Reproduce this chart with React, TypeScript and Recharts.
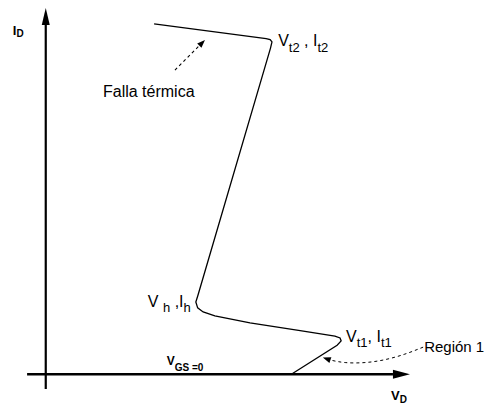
import { LineChart, Line, XAxis, YAxis, ReferenceLine, ReferenceDot } from 'recharts'

const W = 485
const H = 411
const FONT = '"Liberation Sans", Arial, Helvetica, sans-serif'

// snapback curve, drawn from the thermal-failure end down to the trigger point
const CURVE_VD = [2.96, 6.02, 6.13, 6.18, 6.14, 4.16, 4.1, 4.15, 4.3, 4.62, 5.58, 6.95, 7.9, 8.04, 8.07, 7.96, 6.71]
const CURVE_ID = [9.55, 9.15, 9.12, 9.06, 8.89, 2.16, 1.97, 1.81, 1.7, 1.59, 1.4, 1.19, 1.04, 0.99, 0.91, 0.79, 0]

// dashed pointer from "Región 1" back to the curve
const REGION_VD = [10.31, 9.81, 9.27, 8.72, 8.18, 7.77]
const REGION_ID = [0.74, 0.55, 0.4, 0.32, 0.32, 0.39]
const REGION_TIP = { x: 7.57, y: 0.46 }

// dashed pointer for "Falla térmica"
const FALLA_TAIL = { x: 3.53, y: 8.29 }
const FALLA_TIP = { x: 4.35, y: 9.11 }

// key points of the curve
const PT_T2 = { x: 6.13, y: 9.12 }
const PT_H = { x: 4.1, y: 1.97 }
const PT_T1 = { x: 8.04, y: 0.99 }

const X_DOMAIN: [number, number] = [-1.25, 12]
const Y_DOMAIN: [number, number] = [-1, 10.2]

const curve = CURVE_VD.map((x, i) => ({ x, y: CURVE_ID[i] }))
const region = REGION_VD.map((x, i) => ({ x, y: REGION_ID[i] }))

const arrow = (len: number, half: number, width: number, dash?: string, headOnly?: boolean) => (p: any) => {
    const { x1, y1, x2, y2 } = p
    const dx = x2 - x1
    const dy = y2 - y1
    const d = Math.hypot(dx, dy) || 1
    const ux = dx / d
    const uy = dy / d
    const bx = x2 - ux * len
    const by = y2 - uy * len
    const pts = `${x2},${y2} ${bx - uy * half},${by + ux * half} ${bx + uy * half},${by - ux * half}`
    return (
        <g>
            {!headOnly && <line x1={x1} y1={y1} x2={bx} y2={by} stroke="#000" strokeWidth={width} strokeDasharray={dash} />}
            <polygon points={pts} fill="#000" />
        </g>
    )
}

// label parts: plain strings, or [text] for a subscript
type Part = string | [string]

const txt = (dx: number, dy: number, parts: Part[], size = 16, subSize = 13, drop = 5, weight = 400) => (p: any) => {
    let down = false
    return (
        <text x={p.cx + dx} y={p.cy + dy} fontFamily={FONT} fontSize={size} fontWeight={weight} fill="#000">
            {parts.map((part, i) => {
                const isSub = Array.isArray(part)
                const shift = isSub ? (down ? 0 : drop) : (down ? -drop : 0)
                down = isSub
                return (
                    <tspan key={i} dy={shift} fontSize={isSub ? subSize : size}>
                        {isSub ? part[0] : part}
                    </tspan>
                )
            })}
        </text>
    )
}

const App = () => {
    return (
        <div style={{ position: 'absolute', left: 0, top: 0, background: '#fff' }}>
            <LineChart width={W} height={H} margin={{ top: 0, right: 0, bottom: 0, left: 0 }}>
                <XAxis type="number" dataKey="x" domain={X_DOMAIN} allowDataOverflow hide />
                <YAxis type="number" dataKey="y" domain={Y_DOMAIN} allowDataOverflow hide />

                {/* axes */}
                <ReferenceLine ifOverflow="visible" segment={[{ x: -0.51, y: 0 }, { x: 9.95, y: 0 }]} shape={arrow(17, 4.5, 2.6)} />
                <ReferenceLine ifOverflow="visible" segment={[{ x: 0, y: -0.4 }, { x: 0, y: 9.98 }]} shape={arrow(17, 4, 2.2)} />

                <Line data={curve} dataKey="y" type="linear" stroke="#000" strokeWidth={1.3} dot={false} activeDot={false} isAnimationActive={false} />
                <Line data={region} dataKey="y" type="natural" stroke="#000" strokeWidth={1} strokeDasharray="3 3" dot={false} activeDot={false} isAnimationActive={false} />
                <ReferenceLine ifOverflow="visible" segment={[region[region.length - 1], REGION_TIP]} shape={arrow(8, 3, 1, undefined, true)} />
                <ReferenceLine ifOverflow="visible" segment={[FALLA_TAIL, FALLA_TIP]} shape={arrow(8, 3, 1.1, '3 3')} />

                {/* labels */}
                <ReferenceDot ifOverflow="visible" x={PT_T2.x} y={PT_T2.y} shape={txt(8, 6, ['V', ['t2'], ' , I', ['t2']], 16, 13, 6)} />
                <ReferenceDot ifOverflow="visible" x={PT_H.x} y={PT_H.y} shape={txt(-48, 5, ['V ', ['h'], ' ,I', ['h']])} />
                <ReferenceDot ifOverflow="visible" x={PT_T1.x} y={PT_T1.y} shape={txt(6, 4, ['V', ['t1'], ', I', ['t1']])} />
                <ReferenceDot ifOverflow="visible" x={FALLA_TAIL.x} y={FALLA_TAIL.y} shape={txt(-72, 27, ['Falla térmica'])} />
                <ReferenceDot ifOverflow="visible" x={REGION_VD[0]} y={REGION_ID[0]} shape={txt(1, 5, ['Región 1'], 15)} />
                <ReferenceDot ifOverflow="visible" x={0} y={0} shape={txt(121, -9, ['V', ['GS =0']], 12, 10, 6, 700)} />
                <ReferenceDot ifOverflow="visible" x={0} y={9.98} shape={txt(-33, 27, ['I', ['D']], 13, 10, 2, 700)} />
                <ReferenceDot ifOverflow="visible" x={9.95} y={0} shape={txt(-19, 26, ['V', ['D']], 13, 10, 3, 700)} />
            </LineChart>
        </div>
    )
}

export default App
